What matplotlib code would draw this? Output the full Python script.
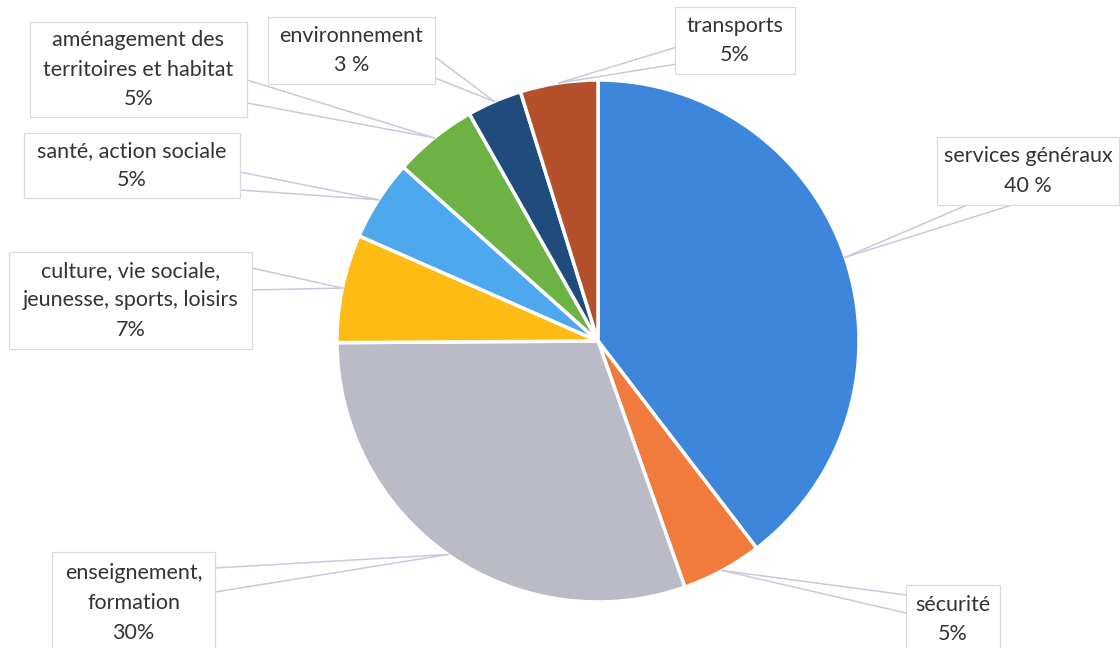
import numpy as np
import matplotlib
matplotlib.use("Agg")
import matplotlib.pyplot as plt
from matplotlib.patches import Rectangle

# parts du budget, dans l'ordre horaire depuis le haut
categories = ["services généraux", "sécurité", "enseignement, formation",
              "culture, vie sociale, jeunesse, sports, loisirs",
              "santé, action sociale", "aménagement des territoires et habitat",
              "environnement", "transports"]
values = [39.6, 5.0, 30.3, 6.7, 5.0, 5.2, 3.4, 4.8]
labels = ["services généraux\n40 %", "sécurité\n5%", "enseignement,\nformation\n30%",
          "culture, vie sociale,\njeunesse, sports, loisirs\n7%",
          "santé, action sociale\n5%", "aménagement des\nterritoires et habitat\n5%",
          "environnement\n3 %", "transports\n5%"]
colors = ["#3d86dc", "#f07b3c", "#babbc6", "#fdbb14",
          "#4ea8ee", "#6cb244", "#1f4c7c", "#b4502b"]

# boites des etiquettes (pixels : x0, y0, x1, y1) et points d'attache du pointeur
boxes = [
    (937, 137, 1119, 205, [(967, 205), (1012, 205)]),
    (906, 585, 1000, 660, [(906, 595), (906, 613)]),
    (52, 552, 215, 660, [(215, 568), (215, 592)]),
    (9, 252, 252, 349, [(252, 268), (252, 290)]),
    (24, 133, 240, 198, [(240, 172), (240, 190)]),
    (30, 22, 247, 117, [(247, 80), (247, 103)]),
    (268, 17, 435, 84, [(435, 57), (435, 78)]),
    (675, 7, 795, 74, [(677, 47), (677, 64)]),
]

H = 648
cx, cy, r = 598, 341, 261

fig = plt.figure(figsize=(11.2, 6.48), dpi=100)
ax = fig.add_axes([0, 0, 1, 1])
wedges, _ = ax.pie(values, colors=colors, startangle=90, counterclock=False,
                   center=(cx, H - cy), radius=r,
                   wedgeprops=dict(edgecolor="white", linewidth=2.5))
ax.set_xlim(0, 1120)
ax.set_ylim(0, H)
ax.set_aspect("equal")
ax.axis("off")

line_col = "#c9c9dc"
for w, lab, (x0, y0, x1, y1, base) in zip(wedges, labels, boxes):
    mid = np.deg2rad((w.theta1 + w.theta2) / 2)
    tx = cx + r * np.cos(mid)
    ty = (H - cy) + r * np.sin(mid)
    for bx, by in base:
        ax.plot([bx, tx], [H - by, ty], color=line_col, lw=1.1, zorder=3)
    ax.add_patch(Rectangle((x0, H - y1), x1 - x0, y1 - y0, facecolor="white",
                           edgecolor="#dadada", lw=0.9, zorder=4))
    ymid = (y0 + min(y1, H)) / 2 + (3 if y1 > H else 0)
    ax.text((x0 + x1) / 2, H - ymid,
            lab, ha="center", va="center", fontsize=15.5, family="Lato",
            color="#333333", linespacing=1.6, zorder=5)

fig.savefig("out.png", dpi=100)
